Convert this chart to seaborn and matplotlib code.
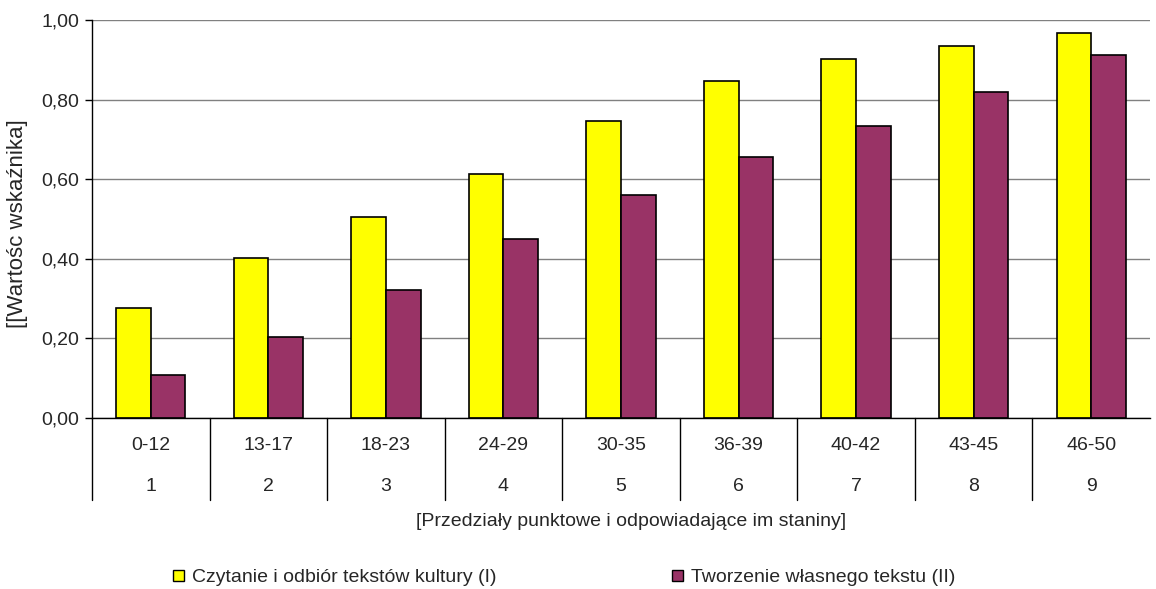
import matplotlib
matplotlib.use('Agg')
import matplotlib.pyplot as plt
import matplotlib.transforms as mtransforms
import pandas as pd
import seaborn as sns

ranges = ['0-12', '13-17', '18-23', '24-29', '30-35', '36-39', '40-42', '43-45', '46-50']
stanines = ['1', '2', '3', '4', '5', '6', '7', '8', '9']
reading = [0.276, 0.402, 0.505, 0.613, 0.746, 0.847, 0.902, 0.935, 0.968]
writing = [0.108, 0.204, 0.322, 0.450, 0.560, 0.656, 0.734, 0.819, 0.912]
series = ['Czytanie i odbiór tekstów kultury (I)', 'Tworzenie własnego tekstu (II)']
yticks = [0.0, 0.2, 0.4, 0.6, 0.8, 1.0]

df = pd.DataFrame({
    'przedzial': ranges * 2,
    'wartosc': reading + writing,
    'seria': [series[0]] * len(ranges) + [series[1]] * len(ranges),
})

sns.set_style('white')
plt.rcParams['font.family'] = ['Liberation Sans', 'DejaVu Sans']
fs = 14

fig = plt.figure(figsize=(11.56, 5.89), dpi=100)
ax = fig.add_axes([0.0796, 0.2903, 0.9152, 0.6757])

sns.barplot(data=df, x='przedzial', y='wartosc', hue='seria', order=ranges,
            palette=['#FFFF00', '#993366'], saturation=1, width=0.59,
            edgecolor='black', linewidth=1.2, ax=ax, legend=False)

ax.set_xlim(-0.5, 8.5)
ax.set_ylim(0, 1.0)
ax.set_yticks(yticks)
ax.set_yticklabels([f'{v:.2f}'.replace('.', ',') for v in yticks], fontsize=fs)
ax.yaxis.grid(True, color='#808080', linewidth=1)
ax.set_axisbelow(True)
ax.tick_params(axis='y', direction='out', length=5, width=1, left=True, color='black', pad=4)
ax.set_xticks([])
ax.set_xlabel('')
ax.set_ylabel('')
for side in ['top', 'right']:
    ax.spines[side].set_visible(False)
for side in ['left', 'bottom']:
    ax.spines[side].set_color('black')
    ax.spines[side].set_linewidth(1)

trans = mtransforms.blended_transform_factory(ax.transData, ax.transAxes)
for i in range(len(ranges)):
    ax.plot([i - 0.5, i - 0.5], [0, -0.206], transform=trans, color='black',
            linewidth=1, clip_on=False)
    ax.text(i, -0.070, ranges[i], transform=trans, ha='center', va='center', fontsize=fs)
    ax.text(i, -0.173, stanines[i], transform=trans, ha='center', va='center', fontsize=fs)

fig.text(631 / 1156, 1 - 522 / 589, '[Przedziały punktowe i odpowiadające im staniny]',
         ha='center', va='center', fontsize=fs)
fig.text(18 / 1156, 1 - 224 / 589, '[[Wartośc wskaźnika]', rotation=90,
         ha='center', va='center', fontsize=16)

handles = [plt.Rectangle((0, 0), 1, 1, facecolor=c, edgecolor='black', linewidth=1)
           for c in ['#FFFF00', '#993366']]
fig.legend(handles, series, loc='center left', bbox_to_anchor=(173 / 1156, 1 - 578 / 589),
           ncol=2, frameon=False, fontsize=fs, handlelength=0.55, handleheight=0.55,
           handletextpad=0.45, columnspacing=9.0, borderpad=0, borderaxespad=0)

fig.savefig('out.png', dpi=100)
